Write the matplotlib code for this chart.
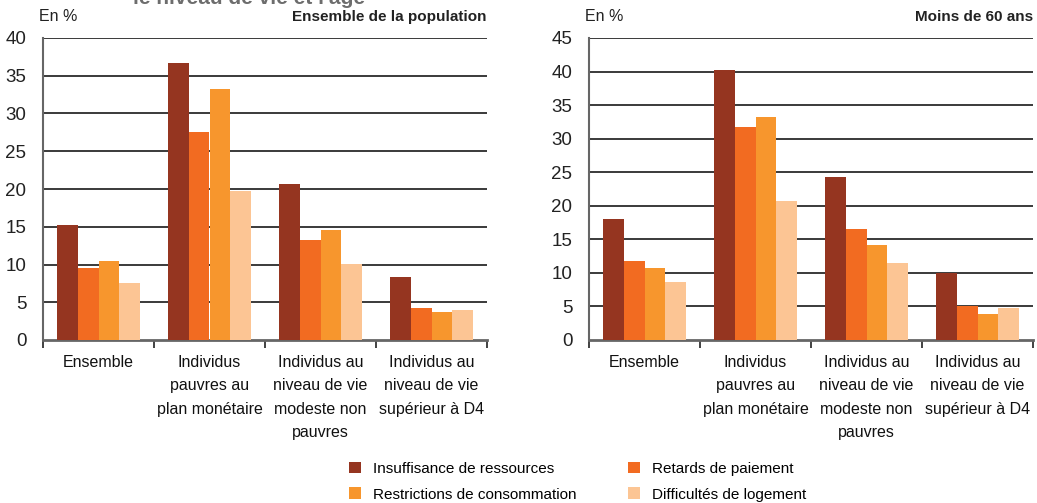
import numpy as np
import matplotlib
matplotlib.use("Agg")
import matplotlib.pyplot as plt
from matplotlib.patches import Patch

plt.rcParams['font.family'] = ['Liberation Sans Narrow', 'Liberation Sans', 'DejaVu Sans']

categories = ["Ensemble", "Individus\npauvres au\nplan monétaire",
              "Individus au\nniveau de vie\nmodeste non\npauvres",
              "Individus au\nniveau de vie\nsupérieur à D4"]
series = ["Insuffisance de ressources", "Retards de paiement",
          "Restrictions de consommation", "Difficultés de logement"]
colors = ["#953520", "#F26B21", "#F7962D", "#FCC594"]

# values per series, one number per category
pop_insuff = [15.2, 36.7, 20.7, 8.4]
pop_retards = [9.6, 27.6, 13.2, 4.2]
pop_restr = [10.4, 33.2, 14.6, 3.7]
pop_logement = [7.6, 19.8, 10.1, 4.0]

m60_insuff = [18.0, 40.2, 24.3, 10.0]
m60_retards = [11.8, 31.7, 16.5, 5.0]
m60_restr = [10.8, 33.2, 14.1, 3.8]
m60_logement = [8.7, 20.7, 11.4, 4.8]

panels = [
    ("Ensemble de la population", [pop_insuff, pop_retards, pop_restr, pop_logement], 40),
    ("Moins de 60 ans", [m60_insuff, m60_retards, m60_restr, m60_logement], 45),
]

fig = plt.figure(figsize=(10.37, 5.03), dpi=100)
W, H = 1037, 503
axes_left = [43, 589]
axes_w = 444
top_px, bot_px = 38, 340

x = np.arange(len(categories))
bw = 0.185

for i, (title, vals, ymax) in enumerate(panels):
    left = axes_left[i]
    ax = fig.add_axes([left / W, 1 - bot_px / H, axes_w / W, (bot_px - top_px) / H])
    for j, v in enumerate(vals):
        ax.bar(x + (j - 1.5) * bw, v, bw, color=colors[j], zorder=3, linewidth=0)
    ax.set_xlim(-0.5, len(categories) - 0.5)
    ax.set_ylim(0, ymax)
    ax.set_yticks(np.arange(0, ymax + 1, 5))
    for yv in np.arange(5, ymax + 1, 5):
        ax.axhline(yv, color="#2b2b2b", lw=1.3, zorder=1)
    for s in ["top", "right"]:
        ax.spines[s].set_visible(False)
    ax.spines["left"].set_color("#666666")
    ax.spines["left"].set_linewidth(1.5)
    ax.spines["bottom"].set_color("#666666")
    ax.spines["bottom"].set_linewidth(2)
    ax.set_xticks(np.arange(-0.5, len(categories)))
    ax.set_xticklabels([])
    ax.tick_params(axis="x", length=6, width=1.3, color="#333333", direction="out")
    ax.tick_params(axis="y", length=0, labelsize=13.5, pad=12, colors="#222222")
    # category labels under the axis
    px_per_unit = (bot_px - top_px) / ymax
    for k, lab in enumerate(categories):
        ax.text(k, -15 / px_per_unit, lab, ha="center", va="top", fontsize=11.5,
                linespacing=1.7, color="#111111")
    ax.text(-0.01, 1.045, "En %", transform=ax.transAxes, ha="left", va="bottom",
            fontsize=11.5, color="#222222")
    ax.text(1.0, 1.045, title, transform=ax.transAxes, ha="right", va="bottom",
            fontsize=11, fontweight="bold", color="#222222")

# title cut off at the top of the image, as in the source
fig.text(249 / W, 1 - 4 / H, "le niveau de vie et l'âge", ha="center", va="baseline",
         fontsize=15, fontweight="bold", color="#6d6d6d")

order = [0, 2, 1, 3]  # legend is filled row by row in the source
handles = [Patch(facecolor=colors[k], edgecolor="none") for k in order]
fig.legend(handles, [series[k] for k in order], loc="upper left",
           bbox_to_anchor=(335 / W, 1 - 448 / H),
           ncol=2, frameon=False, fontsize=11, handlelength=0.8, handleheight=0.8,
           columnspacing=3.35, labelspacing=0.75, handletextpad=0.8)

fig.savefig("out.png", dpi=100)
